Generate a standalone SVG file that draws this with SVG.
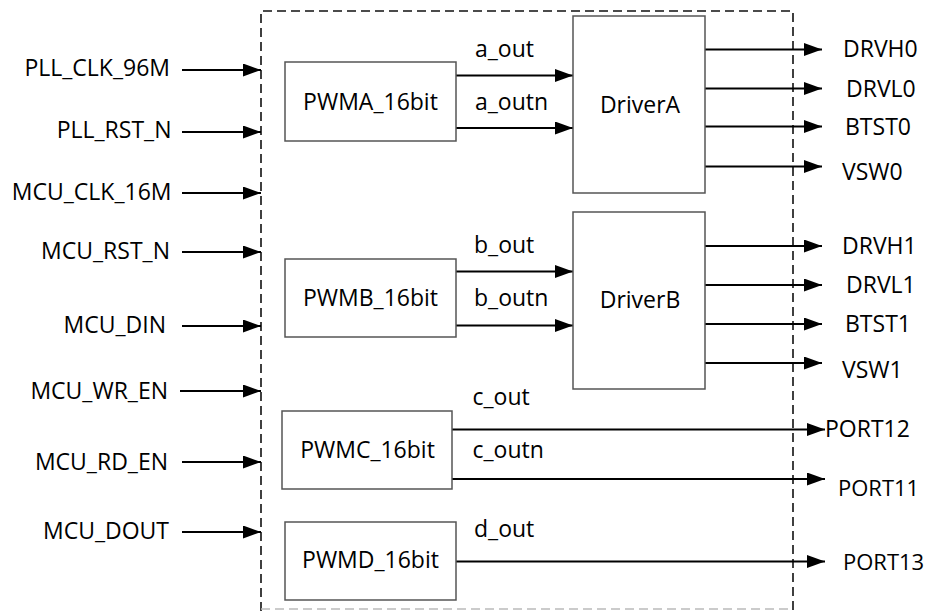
<svg xmlns="http://www.w3.org/2000/svg" width="928" height="612" viewBox="0 0 928 612">
<defs>
<marker id="arr" markerUnits="userSpaceOnUse" markerWidth="18" markerHeight="13" refX="18" refY="6.5" orient="auto">
<path d="M0,0 L18,6.5 L0,13 z" fill="#000"/>
</marker>
<style>
text{font-family:"Open Sans","Liberation Sans",sans-serif;font-size:23px;fill:#000}
.lbl{text-anchor:end}
.mid{text-anchor:middle}
.box{fill:#fff;stroke:#555;stroke-width:1.5}
.w{stroke:#000;stroke-width:2;fill:none;marker-end:url(#arr)}
.dash{stroke:#111;stroke-width:1.6;fill:none;stroke-dasharray:9,5}
.sm{font-size:22px}
</style>
</defs>
<rect width="928" height="612" fill="#fff"/>
<g id="boundary">
<path class="dash" d="M261,611 V11 H793 V611"/>
<path class="dash" d="M261,609 H793" style="stroke:#bbb"/>
</g>
<g id="connectors">
<line class="w" x1="182" y1="70" x2="261" y2="70"/>
<line class="w" x1="182" y1="132" x2="261" y2="132"/>
<line class="w" x1="182" y1="193" x2="261" y2="193"/>
<line class="w" x1="182" y1="252" x2="261" y2="252"/>
<line class="w" x1="182" y1="326" x2="261" y2="326"/>
<line class="w" x1="180" y1="391" x2="261" y2="391"/>
<line class="w" x1="182" y1="462" x2="261" y2="462"/>
<line class="w" x1="182" y1="532" x2="261" y2="532"/>
<line class="w" x1="456" y1="75.5" x2="573" y2="75.5"/>
<line class="w" x1="456" y1="128" x2="573" y2="128"/>
<line class="w" x1="456" y1="271.5" x2="573" y2="271.5"/>
<line class="w" x1="456" y1="325.5" x2="573" y2="325.5"/>
<line class="w" x1="705" y1="49.5" x2="822" y2="49.5"/>
<line class="w" x1="705" y1="88.5" x2="822" y2="88.5"/>
<line class="w" x1="705" y1="126.5" x2="822" y2="126.5"/>
<line class="w" x1="705" y1="166.5" x2="822" y2="166.5"/>
<line class="w" x1="705" y1="246" x2="822" y2="246"/>
<line class="w" x1="705" y1="285" x2="822" y2="285"/>
<line class="w" x1="705" y1="324" x2="822" y2="324"/>
<line class="w" x1="705" y1="363" x2="822" y2="363"/>
<line class="w" x1="452" y1="429.5" x2="825" y2="429.5"/>
<line class="w" x1="452" y1="479" x2="825" y2="479"/>
<line class="w" x1="456" y1="561.5" x2="825" y2="561.5"/>
<text x="475" y="57">a_out</text>
<text x="475" y="110">a_outn</text>
<text x="474" y="253">b_out</text>
<text x="474" y="306">b_outn</text>
<text x="472.5" y="405">c_out</text>
<text x="472.5" y="458">c_outn</text>
<text x="474" y="537">d_out</text>
</g>
<g id="inputs">
<text class="lbl" x="170" y="76">PLL_CLK_96M</text>
<text class="lbl" x="171.5" y="138">PLL_RST_N</text>
<text class="lbl" x="171.5" y="200">MCU_CLK_16M</text>
<text class="lbl" x="170" y="259">MCU_RST_N</text>
<text class="lbl" x="166" y="333">MCU_DIN</text>
<text class="lbl" x="168" y="399">MCU_WR_EN</text>
<text class="lbl" x="168" y="470">MCU_RD_EN</text>
<text class="lbl" x="169" y="539">MCU_DOUT</text>
</g>
<g id="outputs">
<text x="843" y="57">DRVH0</text>
<text x="846" y="96.5">DRVL0</text>
<text x="845" y="135">BTST0</text>
<text x="842" y="180">VSW0</text>
<text x="842" y="254">DRVH1</text>
<text x="846" y="293">DRVL1</text>
<text x="845" y="332">BTST1</text>
<text x="842" y="378">VSW1</text>
<text x="825" y="437">PORT12</text>
<text class="sm" x="838" y="496">PORT11</text>
<text class="sm" x="843" y="570">PORT13</text>
</g>
<g id="PWMA">
<rect class="box" x="285" y="62" width="171" height="79"/>
<text class="mid" x="370.5" y="110">PWMA_16bit</text>
</g>
<g id="PWMB">
<rect class="box" x="285" y="259" width="171" height="78"/>
<text class="mid" x="370.5" y="306">PWMB_16bit</text>
</g>
<g id="PWMC">
<rect class="box" x="282" y="411" width="170" height="78"/>
<text class="mid" x="367.5" y="458">PWMC_16bit</text>
</g>
<g id="PWMD">
<rect class="box" x="285" y="522" width="171" height="78"/>
<text class="mid" x="370.5" y="568">PWMD_16bit</text>
</g>
<g id="DriverA">
<rect class="box" x="573" y="16" width="132" height="177"/>
<text class="mid" x="640" y="113">DriverA</text>
</g>
<g id="DriverB">
<rect class="box" x="573" y="212" width="132" height="177"/>
<text class="mid" x="640" y="308">DriverB</text>
</g>
</svg>
